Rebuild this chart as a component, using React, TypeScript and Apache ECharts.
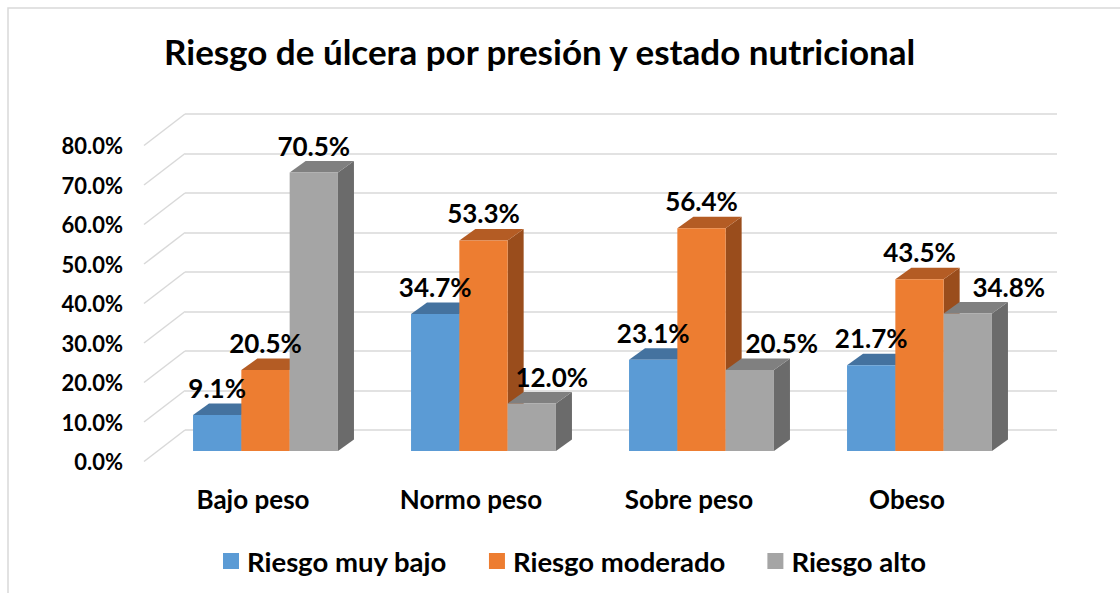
import { useEffect, useRef } from "react";
import * as echarts from "echarts";

const categories = ["Bajo peso", "Normo peso", "Sobre peso", "Obeso"];
const seriesNames = ["Riesgo muy bajo", "Riesgo moderado", "Riesgo alto"];
const riesgoMuyBajo = [9.1, 34.7, 23.1, 21.7];
const riesgoModerado = [20.5, 53.3, 56.4, 43.5];
const riesgoAlto = [70.5, 12.0, 20.5, 34.8];
const yTicks = [0, 10, 20, 30, 40, 50, 60, 70, 80];

const seriesValues = [riesgoMuyBajo, riesgoModerado, riesgoAlto];

const FACE = [
  { front: "#5B9BD5", top: "#44729F", side: "#3F6A94" },
  { front: "#ED7D31", top: "#B45C24", side: "#9A4D1C" },
  { front: "#A5A5A5", top: "#808080", side: "#6B6B6B" },
];
const LABEL_SHIFT = [
  [0, 0, 0, 0],
  [0, 0, 0, 0],
  [0, 20, 32, 41],
];
const FONT = "Lato";
const DX = 16;
const DY = 11.5;
const BAR_FRAC = 0.2216;
const WALL_DX = 41;
const WALL_DY = 31.5;

function barGeom(api: any, s: number) {
  const ci = api.value(0);
  const v = api.value(1);
  const base = api.coord([ci, 0]);
  const top = api.coord([ci, v]);
  const band = api.size([1, 0])[0];
  const bw = band * BAR_FRAC;
  const x0 = base[0] - 1.5 * bw + s * bw;
  return { x0, x1: x0 + bw, yT: top[1], yB: base[1], bw, ci, v };
}

export default function App() {
  const ref = useRef<HTMLDivElement>(null);

  useEffect(() => {
    document.body.style.margin = "0";
    if (!ref.current) return;
    const chart = echarts.init(ref.current, undefined, { renderer: "svg" });

    const barSeries = seriesValues.map((vals, s) => ({
      type: "custom",
      name: seriesNames[s],
      xAxisIndex: 2,
      yAxisIndex: 2,
      z: 3,
      itemStyle: { color: FACE[s].front },
      data: vals.map((v, ci) => [ci, v]),
      renderItem: (_params: any, api: any) => {
        const g = barGeom(api, s);
        const c = FACE[s];
        return {
          type: "group",
          children: [
            {
              type: "polygon",
              shape: {
                points: [
                  [g.x1, g.yT],
                  [g.x1 + DX, g.yT - DY],
                  [g.x1 + DX, g.yB - DY],
                  [g.x1, g.yB],
                ],
              },
              style: { fill: c.side },
            },
            {
              type: "polygon",
              shape: {
                points: [
                  [g.x0, g.yT],
                  [g.x1, g.yT],
                  [g.x1 + DX, g.yT - DY],
                  [g.x0 + DX, g.yT - DY],
                ],
              },
              style: { fill: c.top },
            },
            {
              type: "rect",
              shape: { x: g.x0, y: g.yT, width: g.bw, height: g.yB - g.yT },
              style: { fill: c.front },
            },
          ],
        };
      },
    }));

    const labelData = seriesValues.flatMap((vals, s) => vals.map((v, ci) => [ci, v, s]));

    const option: any = {
      animation: false,
      title: {
        text: "Riesgo de úlcera por presión y estado nutricional",
        left: 159,
        top: 28,
        textStyle: { fontSize: 35, fontWeight: "bold", fontFamily: FONT, color: "#000" },
      },
      legend: {
        data: seriesNames,
        left: 218,
        top: 542,
        icon: "rect",
        itemWidth: 16,
        itemHeight: 16,
        itemGap: 42,
        selectedMode: false,
        textStyle: { fontSize: 27.5, fontWeight: "bold", fontFamily: FONT, color: "#000", padding: [0, 0, 0, 3] },
      },
      graphic: [
        {
          type: "rect",
          silent: true,
          shape: { x: 8, y: 8, width: 1200, height: 700 },
          style: { fill: "none", stroke: "#D9D9D9", lineWidth: 1.5 },
        },
      ],
      grid: [
        { left: 144, right: 104, top: 145.5, bottom: 131.5 },
        { left: 185, right: 63, top: 114, bottom: 163 },
        { left: 156.5, right: 91.5, top: 135, bottom: 142 },
      ],
      xAxis: [
        {
          gridIndex: 0,
          type: "category",
          data: categories,
          axisLine: { show: false },
          axisTick: { show: false },
          splitLine: { show: false },
          axisLabel: { margin: 24, fontSize: 26, fontWeight: "bold", fontFamily: FONT, color: "#000" },
        },
        { gridIndex: 1, type: "category", data: categories, show: false },
        { gridIndex: 2, type: "category", data: categories, show: false },
      ],
      yAxis: [
        {
          gridIndex: 0,
          type: "value",
          min: 0,
          max: 80,
          interval: 10,
          axisLine: { show: false },
          axisTick: { show: false },
          splitLine: { show: false },
          axisLabel: {
            formatter: (v: number) => v.toFixed(1) + "%",
            margin: 21,
            fontSize: 22,
            fontWeight: "bold",
            fontFamily: FONT,
            color: "#000",
          },
        },
        {
          gridIndex: 1,
          type: "value",
          min: 0,
          max: 80,
          interval: 10,
          axisLine: { show: false },
          axisTick: { show: false },
          axisLabel: { show: false },
          splitLine: { show: true, lineStyle: { color: "#D9D9D9", width: 1.5 } },
        },
        { gridIndex: 2, type: "value", min: 0, max: 80, interval: 10, show: false },
      ],
      series: [
        {
          type: "custom",
          name: "walls",
          xAxisIndex: 0,
          yAxisIndex: 0,
          z: 1,
          silent: true,
          data: yTicks.map((t) => [0, t]),
          renderItem: (params: any, api: any) => {
            const p = api.coord([0, api.value(1)]);
            const x = params.coordSys.x;
            return {
              type: "line",
              shape: { x1: x, y1: p[1], x2: x + WALL_DX, y2: p[1] - WALL_DY },
              style: { stroke: "#D9D9D9", lineWidth: 1.5 },
            };
          },
        },
        ...barSeries,
        {
          type: "custom",
          name: "labels",
          xAxisIndex: 2,
          yAxisIndex: 2,
          z: 10,
          silent: true,
          data: labelData,
          renderItem: (_params: any, api: any) => {
            const s = api.value(2);
            const g = barGeom(api, s);
            return {
              type: "text",
              x: (g.x0 + g.x1) / 2 + LABEL_SHIFT[s][g.ci],
              y: g.yT - 27,
              style: {
                text: g.v.toFixed(1) + "%",
                fontSize: 26,
                fontWeight: "bold",
                fontFamily: FONT,
                fill: "#000",
                align: "center",
                verticalAlign: "middle",
              },
            };
          },
        },
      ],
    };

    chart.setOption(option);
    return () => chart.dispose();
  }, []);

  return <div ref={ref} style={{ width: 1120, height: 593 }} />;
}
